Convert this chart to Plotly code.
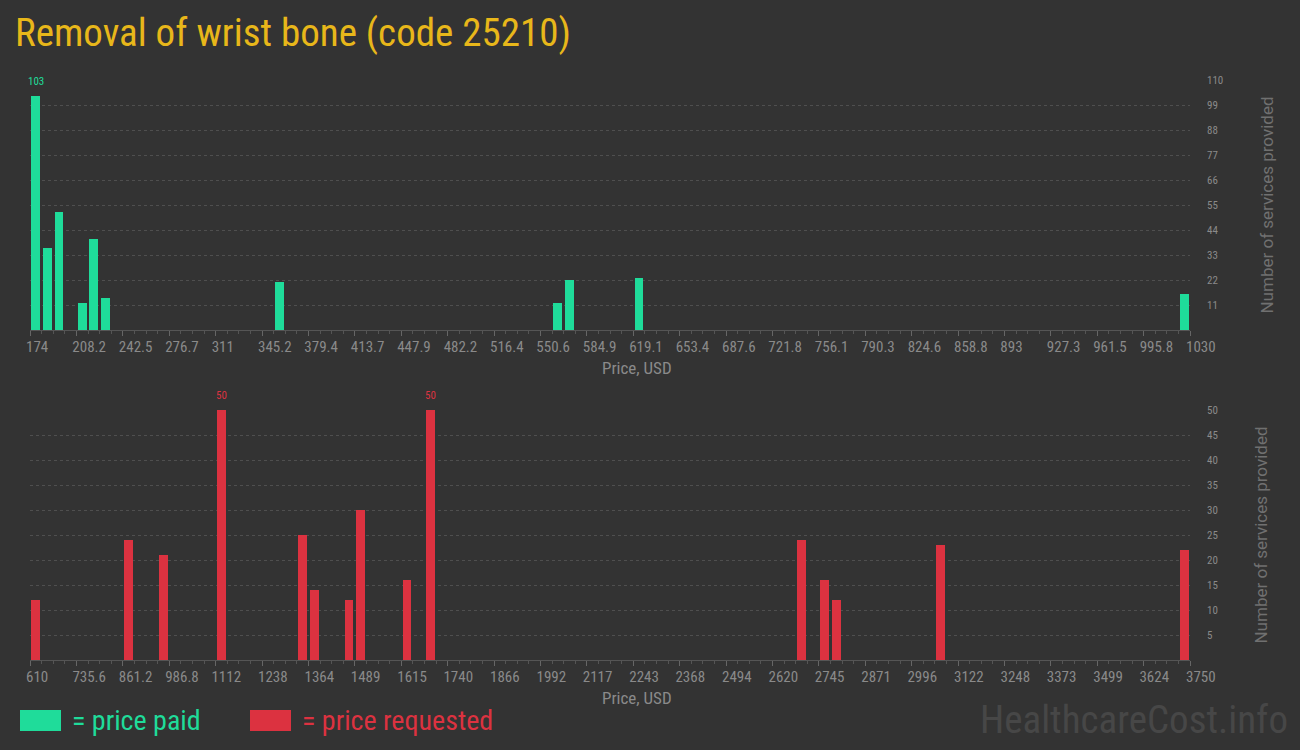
import plotly.graph_objects as go

# ---------------- data ----------------
title_text = "Removal of wrist bone (code 25210)"
x_title = "Price, USD"
y_title = "Number of services provided"

paid_tick_labels = ["174", "208.2", "242.5", "276.7", "311", "345.2", "379.4", "413.7",
                    "447.9", "482.2", "516.4", "550.6", "584.9", "619.1", "653.4", "687.6",
                    "721.8", "756.1", "790.3", "824.6", "858.8", "893", "927.3", "961.5",
                    "995.8", "1030"]
paid_bin_width = 8.56
paid_bin_low = [174.0, 182.56, 191.12, 208.24, 216.8, 225.36, 353.76, 559.2, 567.76, 619.12, 1021.44]
paid_counts = [103, 36, 52, 12, 40, 14, 21, 12, 22, 23, 16]
paid_y_ticks = [11, 22, 33, 44, 55, 66, 77, 88, 99, 110]

req_tick_labels = ["610", "735.6", "861.2", "986.8", "1112", "1238", "1364", "1489", "1615",
                   "1740", "1866", "1992", "2117", "2243", "2368", "2494", "2620", "2745",
                   "2871", "2996", "3122", "3248", "3373", "3499", "3624", "3750"]
req_bin_width = 31.4
req_bin_low = [610.0, 861.2, 955.4, 1112.4, 1332.2, 1363.6, 1457.8, 1489.2, 1614.8, 1677.6,
               2682.4, 2745.2, 2776.6, 3059.2, 3718.6]
req_counts = [12, 24, 21, 50, 25, 14, 12, 30, 16, 50, 24, 16, 12, 23, 22]
req_y_ticks = [5, 10, 15, 20, 25, 30, 35, 40, 45, 50]

# ---------------- style ----------------
BG = "#333333"
GREEN = "#1fdc9a"
RED = "#dc3240"
YELLOW = "#e8b71a"
TICK = "#8a8a8a"
GRID = "#4f4f4f"
NARROW = "Roboto Condensed, Liberation Sans Narrow, DejaVu Sans Condensed, sans-serif"

fig = go.Figure()

def centers(lows, w):
    return [v + w / 2 for v in lows]

fig.add_trace(go.Bar(x=centers(paid_bin_low, paid_bin_width), y=paid_counts,
                     width=paid_bin_width * 0.76, marker=dict(color=GREEN, line=dict(width=0)),
                     xaxis="x", yaxis="y", showlegend=False, hoverinfo="x+y"))
fig.add_trace(go.Bar(x=centers(req_bin_low, req_bin_width), y=req_counts,
                     width=req_bin_width * 0.76, marker=dict(color=RED, line=dict(width=0)),
                     xaxis="x2", yaxis="y2", showlegend=False, hoverinfo="x+y"))

# max-value labels
annotations = []
pmax = max(paid_counts)
for lo, c in zip(paid_bin_low, paid_counts):
    if c == pmax:
        annotations.append(dict(x=lo + paid_bin_width / 2, y=c, xref="x", yref="y", text=str(c),
                                showarrow=False, yanchor="bottom", yshift=6,
                                font=dict(family=NARROW, size=11, color=GREEN)))
rmax = max(req_counts)
for lo, c in zip(req_bin_low, req_counts):
    if c == rmax:
        annotations.append(dict(x=lo + req_bin_width / 2, y=c, xref="x2", yref="y2", text=str(c),
                                showarrow=False, yanchor="bottom", yshift=6,
                                font=dict(family=NARROW, size=11, color=RED)))

def xaxis_cfg(labels, bw, anchor):
    vals = [float(t) for t in labels]
    return dict(range=[vals[0], vals[-1]], tickmode="array", tickvals=vals, ticktext=labels,
                ticks="outside", ticklen=5, tickcolor="#666666", showgrid=False,
                showline=True, linecolor="#555555", linewidth=1, zeroline=False,
                ticklabelposition="outside right", ticklabelshift=-5, ticklabelstandoff=3,
                tickfont=dict(family=NARROW, size=15, color=TICK),
                minor=dict(tickmode="linear", tick0=vals[0], dtick=bw, ticks="outside",
                           ticklen=3, tickcolor="#555555", showgrid=False),
                anchor=anchor, fixedrange=True)

def yaxis_cfg(ticks, domain, anchor):
    return dict(range=[0, ticks[-1]], tickmode="array", tickvals=ticks, side="right",
                showgrid=True, gridcolor=GRID, griddash="dot", gridwidth=1,
                zeroline=False, showline=False, ticks="", ticklabelstandoff=16,
                tickfont=dict(family=NARROW, size=11, color=TICK),
                title=dict(text=y_title, standoff=38,
                           font=dict(family="Roboto, sans-serif", size=17, color="#707070")),
                domain=domain, anchor=anchor, fixedrange=True)

W, H = 1300, 750
ml, mr, mt, mb = 30, 110, 80, 90
ph = H - mt - mb
pw = W - ml - mr

def py(p):
    return (H - mb - p) / ph

def px(p):
    return (p - ml) / pw

fig.update_layout(
    width=W, height=H,
    margin=dict(l=ml, r=mr, t=mt, b=mb),
    paper_bgcolor=BG, plot_bgcolor=BG,
    bargap=0,
    xaxis=xaxis_cfg(paid_tick_labels, paid_bin_width, "y"),
    yaxis=yaxis_cfg(paid_y_ticks, [py(330), 1.0], "x"),
    xaxis2=xaxis_cfg(req_tick_labels, req_bin_width, "y2"),
    yaxis2=yaxis_cfg(req_y_ticks, [0.0, py(410)], "x2"),
    title=dict(text=title_text, x=15 / W, xanchor="left", y=1 - 32 / H, yanchor="middle",
               font=dict(family=NARROW, size=39, color=YELLOW)),
)

# x-axis titles (offset to the right like the original)
for ycen in (368, 698):
    annotations.append(dict(x=px(637), y=py(ycen), xref="paper", yref="paper", text=x_title,
                            showarrow=False, xanchor="center", yanchor="middle",
                            font=dict(family=NARROW, size=17, color=TICK)))

# legend (custom) and watermark
shapes = [
    dict(type="rect", xref="paper", yref="paper", x0=px(20), x1=px(61), y0=py(731), y1=py(710),
         fillcolor=GREEN, line=dict(width=0)),
    dict(type="rect", xref="paper", yref="paper", x0=px(250), x1=px(291), y0=py(731), y1=py(710),
         fillcolor=RED, line=dict(width=0)),
]
annotations += [
    dict(x=px(70), y=py(720), xref="paper", yref="paper", text="= price paid", showarrow=False,
         xanchor="left", yanchor="middle", font=dict(family=NARROW, size=28, color=GREEN)),
    dict(x=px(300), y=py(720), xref="paper", yref="paper", text="= price requested",
         showarrow=False, xanchor="left", yanchor="middle",
         font=dict(family=NARROW, size=28, color=RED)),
    dict(x=px(1290), y=py(720), xref="paper", yref="paper", text="HealthcareCost.info",
         showarrow=False, xanchor="right", yanchor="middle",
         font=dict(family=NARROW, size=39, color="#474747")),
]
fig.update_layout(shapes=shapes, annotations=annotations)

fig.write_html("out.html", config=dict(displayModeBar=False))
